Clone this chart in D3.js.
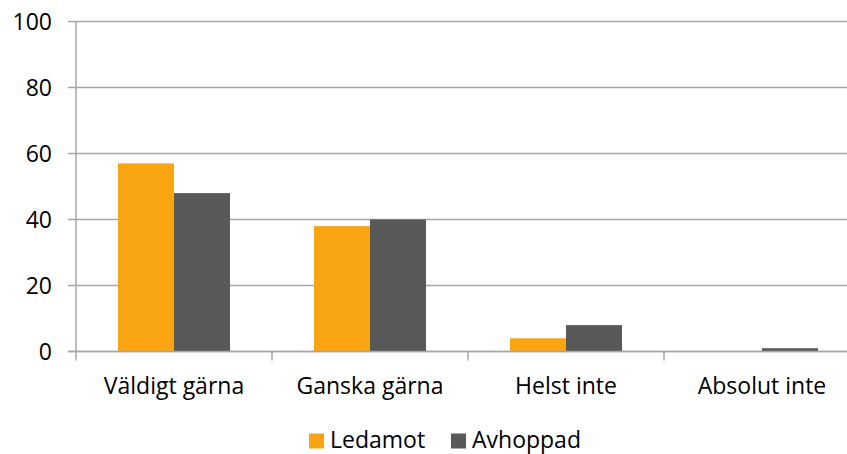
<!DOCTYPE html>
<html>
<head>
<meta charset="utf-8">
<script src="https://cdn.jsdelivr.net/npm/d3@7"></script>
<style>
  body { margin: 0; background: #fff; }
  text { font-family: "Open Sans", sans-serif; fill: #000; }
</style>
</head>
<body>
<svg id="chart" width="847" height="454"></svg>
<script>
// Data
const categories = ["Väldigt gärna", "Ganska gärna", "Helst inte", "Absolut inte"];
const seriesNames = ["Ledamot", "Avhoppad"];
const ledamot = [57, 38, 4, 0];
const avhoppad = [48, 40, 8, 1];
const yTicks = [0, 20, 40, 60, 80, 100];

const colors = { Ledamot: "#F9A512", Avhoppad: "#595959" };
const gridColor = "#A6A6A6";
const fontSize = "23px";

const svg = d3.select("#chart");
const margin = { left: 76, top: 21.5, bottom: 351.5, right: 860 };

const x = d3.scaleBand().domain(categories).range([margin.left, margin.right]);
const xInner = d3.scaleBand().domain(seriesNames).range([0, x.bandwidth()]).paddingOuter(0.75).paddingInner(0);
const y = d3.scaleLinear().domain([0, 100]).range([margin.bottom, margin.top]);

// Gridlines
svg.append("g")
  .selectAll("line")
  .data(yTicks)
  .enter()
  .append("line")
  .attr("x1", margin.left - 8)
  .attr("x2", margin.right)
  .attr("y1", (d) => y(d))
  .attr("y2", (d) => y(d))
  .attr("stroke", gridColor)
  .attr("stroke-width", 1.5);

// Y axis line
svg.append("line")
  .attr("x1", margin.left).attr("x2", margin.left)
  .attr("y1", y(100)).attr("y2", y(0))
  .attr("stroke", gridColor).attr("stroke-width", 1.5);

// Y tick labels
svg.append("g")
  .selectAll("text")
  .data(yTicks)
  .enter()
  .append("text")
  .attr("x", 52)
  .attr("y", (d) => y(d))
  .attr("dy", "0.36em")
  .attr("text-anchor", "end")
  .style("font-size", fontSize)
  .text((d) => d);

// Bars
const rows = categories.map((c, i) => ({ cat: c, Ledamot: ledamot[i], Avhoppad: avhoppad[i] }));
const groups = svg.append("g")
  .selectAll("g")
  .data(rows)
  .enter()
  .append("g")
  .attr("transform", (d) => `translate(${x(d.cat)},0)`);

groups.selectAll("rect")
  .data((d) => seriesNames.map((s) => ({ s, v: d[s] })))
  .enter()
  .append("rect")
  .attr("x", (d) => xInner(d.s))
  .attr("y", (d) => y(d.v))
  .attr("width", xInner.bandwidth())
  .attr("height", (d) => y(0) - y(d.v))
  .attr("fill", (d) => colors[d.s]);

// X axis line and category ticks (drawn over bars)
svg.append("line")
  .attr("x1", margin.left - 8).attr("x2", margin.right)
  .attr("y1", y(0)).attr("y2", y(0))
  .attr("stroke", gridColor).attr("stroke-width", 1.5);

svg.append("g")
  .selectAll("line")
  .data(categories.concat([null]))
  .enter()
  .append("line")
  .attr("x1", (d, i) => margin.left + i * x.step())
  .attr("x2", (d, i) => margin.left + i * x.step())
  .attr("y1", y(0))
  .attr("y2", y(0) + 9)
  .attr("stroke", gridColor)
  .attr("stroke-width", 1.5);

// Category labels
svg.append("g")
  .selectAll("text")
  .data(categories)
  .enter()
  .append("text")
  .attr("x", (d) => x(d) + x.bandwidth() / 2)
  .attr("y", 386)
  .attr("dy", "0.36em")
  .attr("text-anchor", "middle")
  .style("font-size", fontSize)
  .text((d) => d);

// Legend
const legendItems = [
  { name: "Ledamot", x: 309 },
  { name: "Avhoppad", x: 451 }
];
const legend = svg.append("g");
legend.selectAll("rect")
  .data(legendItems)
  .enter()
  .append("rect")
  .attr("x", (d) => d.x)
  .attr("y", 433.5)
  .attr("width", 15)
  .attr("height", 15)
  .attr("fill", (d) => colors[d.name]);
legend.selectAll("text")
  .data(legendItems)
  .enter()
  .append("text")
  .attr("x", (d) => d.x + 21)
  .attr("y", 440)
  .attr("dy", "0.36em")
  .style("font-size", fontSize)
  .text((d) => d.name);
</script>
</body>
</html>
